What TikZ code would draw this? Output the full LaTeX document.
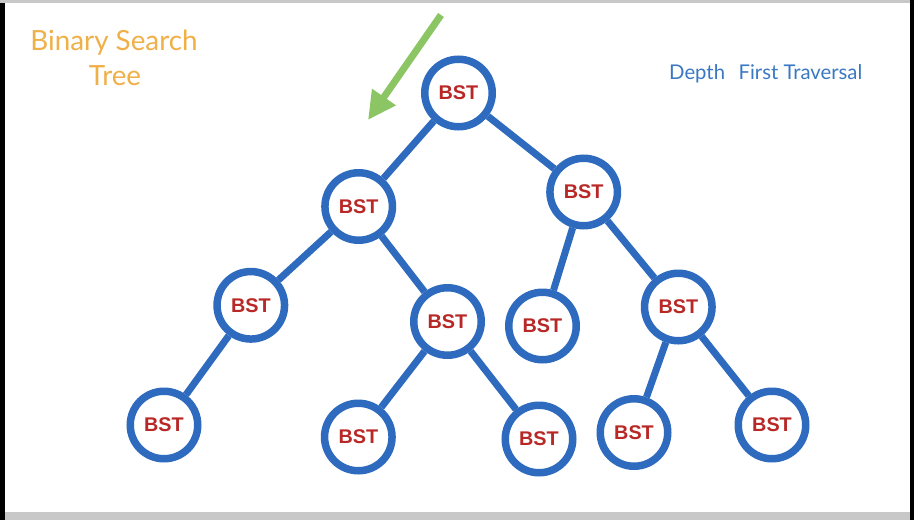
\documentclass[tikz,border=0pt]{standalone}
\usepackage{fontspec}
\setmainfont{Lato}
\newfontfamily\bstfont{Liberation Sans}
\usetikzlibrary{arrows.meta}
\definecolor{treeblue}{RGB}{46,106,190}
\definecolor{bstred}{RGB}{184,40,38}
\definecolor{titleorange}{RGB}{240,176,72}
\definecolor{textblue}{RGB}{58,120,196}
\definecolor{arrowgreen}{RGB}{140,198,100}
\definecolor{bandgray}{RGB}{200,200,200}
\tikzset{
  bstnode/.style={circle, draw=treeblue, line width=7.5pt, fill=white,
    minimum size=67.5pt, inner sep=0pt,
    font=\bstfont\bfseries\fontsize{19.8}{19.8}\selectfont, text=bstred},
  treeedge/.style={draw=treeblue, line width=7pt},
}
\begin{document}
\begin{tikzpicture}[x=1pt,y=-1pt]
\useasboundingbox (0,0) rectangle (914,520);
\fill[white] (0,0) rectangle (914,520);
\fill[bandgray] (0,0) rectangle (914,3);
\fill[bandgray] (0,512) rectangle (914,520);
\fill[black] (0,3) rectangle (5,520);
\fill[black] (910,0) rectangle (914,520);

% nodes
\node[bstnode] (r)   at (458.5,93)  {BST};
\node[bstnode] (l)   at (358.7,206.5) {BST};
\node[bstnode] (rr)  at (583.7,192) {BST};
\node[bstnode] (ll)  at (250.8,305.3) {BST};
\node[bstnode] (lr)  at (447.5,321.5) {BST};
\node[bstnode] (rl)  at (542.5,326) {BST};
\node[bstnode] (rrr) at (678.3,307) {BST};
\node[bstnode] (lll) at (164,425) {BST};
\node[bstnode] (lrl) at (358.3,437) {BST};
\node[bstnode] (lrr) at (539,439) {BST};
\node[bstnode] (rrl) at (634,432.5) {BST};
\node[bstnode] (rrrr) at (772,425) {BST};

% edges
\draw[treeedge] (r) -- (l);
\draw[treeedge] (r) -- (rr);
\draw[treeedge] (l) -- (ll);
\draw[treeedge] (l) -- (lr);
\draw[treeedge] (rr) -- (rl);
\draw[treeedge] (rr) -- (rrr);
\draw[treeedge] (ll) -- (lll);
\draw[treeedge] (lr) -- (lrl);
\draw[treeedge] (lr) -- (lrr);
\draw[treeedge] (rrr) -- (rrl);
\draw[treeedge] (rrr) -- (rrrr);

% green arrow
\coordinate (gs) at (441,15);
\coordinate (gt) at (368,120);
\draw[arrowgreen, line width=7pt, -{Triangle[length=28pt,width=27pt]}] (gs) -- (gt);

% texts
\node[anchor=base, text=titleorange, font=\fontsize{27.8}{34}\selectfont, inner sep=0pt] (t1) at (114,50.7) {Binary Search};
\node[anchor=base, text=titleorange, font=\fontsize{27.8}{34}\selectfont, inner sep=0pt] (t2) at (115,85) {Tree};
\node[anchor=base west, text=textblue, font=\fontsize{20.3}{20.3}\selectfont, inner sep=0pt] (dft) at (669,79.3) {Depth\hspace{13.5pt}First Traversal};
\end{tikzpicture}
\end{document}
